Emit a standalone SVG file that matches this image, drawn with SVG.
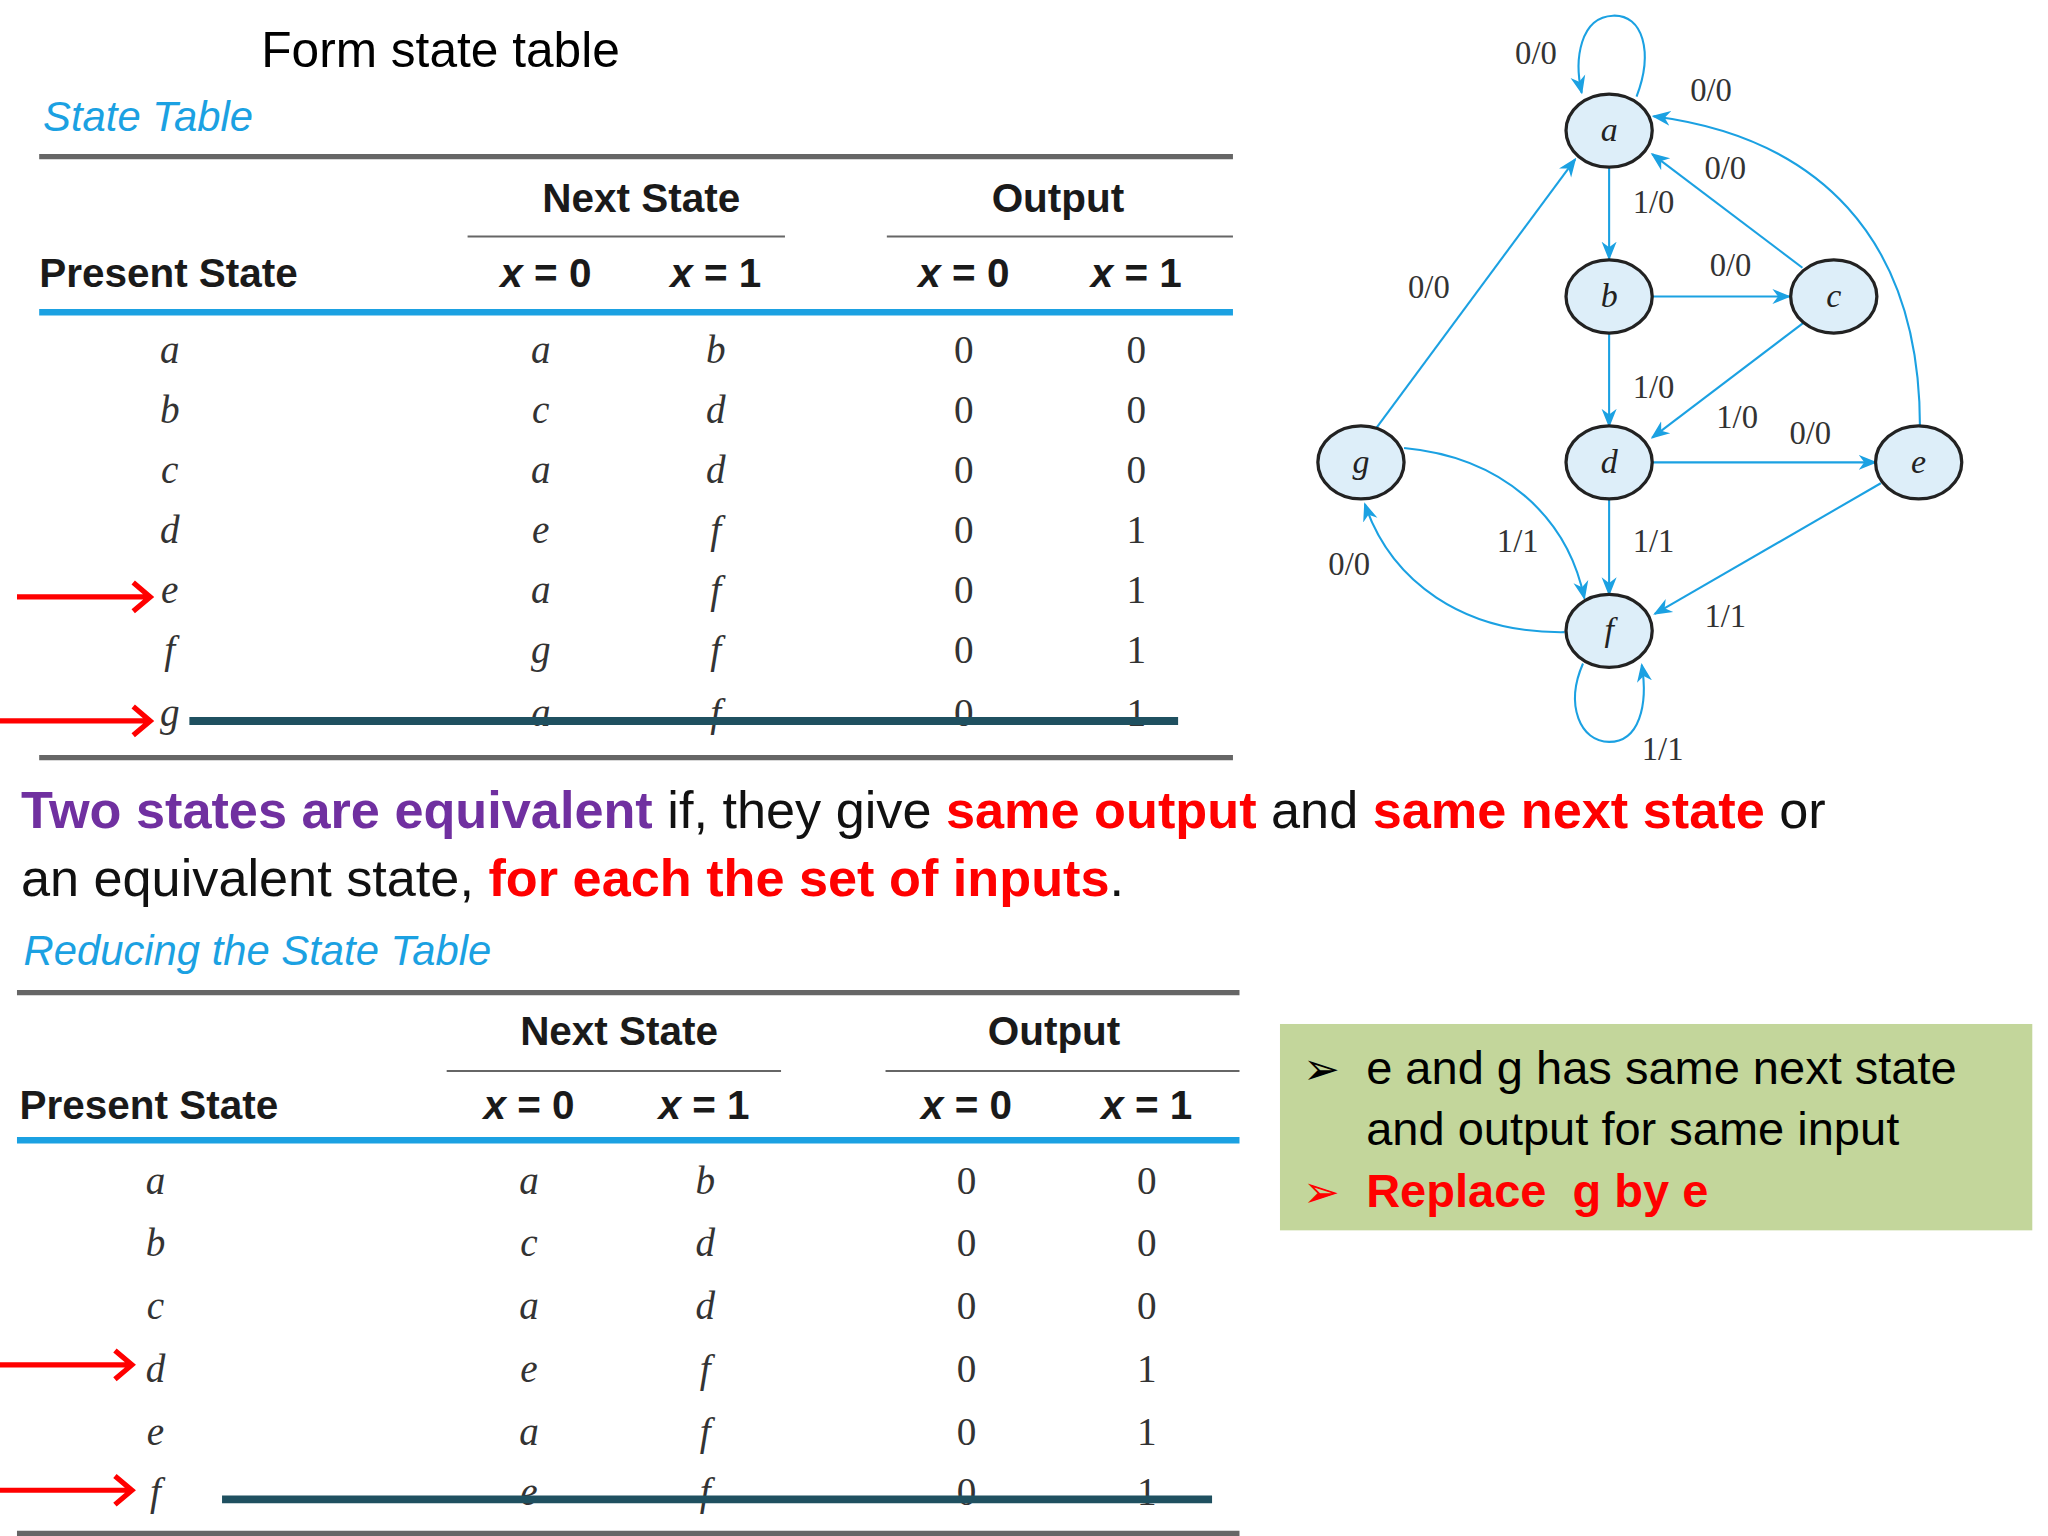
<svg xmlns="http://www.w3.org/2000/svg" width="2048" height="1536" viewBox="0 0 2048 1536">
<style>
.t{font-family:"Liberation Sans",Arial,sans-serif}
.h{font-family:"Liberation Sans",Arial,sans-serif;font-weight:bold;font-size:31px;fill:#1a1a1a}
.hc{font-family:"Liberation Sans",Arial,sans-serif;font-weight:bold;font-size:31px;fill:#1a1a1a;text-anchor:middle}
.c{font-family:"Liberation Serif","Times New Roman",serif;font-style:italic;font-size:30px;fill:#333;text-anchor:middle}
.n{font-family:"Liberation Serif","Times New Roman",serif;font-size:30px;fill:#333;text-anchor:middle}
.cap{font-family:"Liberation Sans",Arial,sans-serif;font-style:italic;font-size:32px;fill:#1ba1e2}
.gl{stroke:#666;stroke-width:4}
.tl{stroke:#666;stroke-width:1.5}
.bl{stroke:#1ba1e2;stroke-width:5}
.st{stroke:#1f5060;stroke-width:6}
.ra{stroke:#f00;stroke-width:4;fill:none}
.node ellipse{fill:#ddeef9;stroke:#222;stroke-width:2.5}
.node text{font-family:"Liberation Serif","Times New Roman",serif;font-style:italic;font-size:26px;fill:#222;text-anchor:middle}
.e{stroke:#1ba1e2;stroke-width:1.6;fill:none;marker-end:url(#ah)}
.el{font-family:"Liberation Serif","Times New Roman",serif;font-size:25px;fill:#333;text-anchor:middle}
.p{font-family:"Liberation Sans",Arial,sans-serif;font-size:40px;fill:#111}
.r{fill:#f00;font-weight:bold}
.pu{fill:#7030a0;font-weight:bold}
</style>
<defs>
<marker id="ah" viewBox="0 0 10 10" refX="9" refY="5" markerWidth="9" markerHeight="9" orient="auto"><path d="M0,1 L10,5 L0,9 L3,5 Z" fill="#1ba1e2"/></marker>
</defs>
<rect width="2048" height="1536" fill="#fff"/>
<g transform="scale(1.3061)">
<text class="t" x="200" y="51" font-size="38">Form state table</text>
<text class="cap" x="33" y="100">State Table</text>
<line class="gl" x1="30" y1="120" x2="944" y2="120"/>
<text class="hc" x="491" y="162">Next State</text>
<line class="tl" x1="358" y1="181" x2="601" y2="181"/>
<text class="hc" x="810" y="162">Output</text>
<line class="tl" x1="679" y1="181" x2="944" y2="181"/>
<text class="h" x="30" y="220">Present State</text>
<text class="hc" x="418" y="220"><tspan font-style="italic">x</tspan> = 0</text>
<text class="hc" x="548" y="220"><tspan font-style="italic">x</tspan> = 1</text>
<text class="hc" x="738" y="220"><tspan font-style="italic">x</tspan> = 0</text>
<text class="hc" x="870" y="220"><tspan font-style="italic">x</tspan> = 1</text>
<line class="bl" x1="30" y1="239" x2="944" y2="239"/>
<g>
<text class="c" x="130" y="278">a</text><text class="c" x="414" y="278">a</text><text class="c" x="548" y="278">b</text><text class="n" x="738" y="278">0</text><text class="n" x="870" y="278">0</text>
<text class="c" x="130" y="324">b</text><text class="c" x="414" y="324">c</text><text class="c" x="548" y="324">d</text><text class="n" x="738" y="324">0</text><text class="n" x="870" y="324">0</text>
<text class="c" x="130" y="370">c</text><text class="c" x="414" y="370">a</text><text class="c" x="548" y="370">d</text><text class="n" x="738" y="370">0</text><text class="n" x="870" y="370">0</text>
<text class="c" x="130" y="416">d</text><text class="c" x="414" y="416">e</text><text class="c" x="548" y="416">f</text><text class="n" x="738" y="416">0</text><text class="n" x="870" y="416">1</text>
<text class="c" x="130" y="462">e</text><text class="c" x="414" y="462">a</text><text class="c" x="548" y="462">f</text><text class="n" x="738" y="462">0</text><text class="n" x="870" y="462">1</text>
<text class="c" x="130" y="508">f</text><text class="c" x="414" y="508">g</text><text class="c" x="548" y="508">f</text><text class="n" x="738" y="508">0</text><text class="n" x="870" y="508">1</text>
<text class="c" x="130" y="556">g</text><text class="c" x="414" y="556">a</text><text class="c" x="548" y="556">f</text><text class="n" x="738" y="556">0</text><text class="n" x="870" y="556">1</text>
</g>
<line class="st" x1="145" y1="552" x2="902" y2="552"/>
<path class="ra" d="M13,457 H114 M102,446 L115,457 L102,468"/>
<path class="ra" d="M0,552 H114 M102,541 L115,552 L102,563"/>
<line class="gl" x1="30" y1="580" x2="944" y2="580"/>

<text class="p" x="16" y="634"><tspan class="pu">Two states are equivalent</tspan> if, they give <tspan class="r">same output</tspan> and <tspan class="r">same next state</tspan> or</text>
<text class="p" x="16" y="686">an equivalent state, <tspan class="r">for each the set of inputs</tspan>.</text>

<text class="cap" x="18" y="739">Reducing the State Table</text>
<line class="gl" x1="13" y1="760" x2="949" y2="760"/>
<text class="hc" x="474" y="800">Next State</text>
<line class="tl" x1="342" y1="820" x2="598" y2="820"/>
<text class="hc" x="807" y="800">Output</text>
<line class="tl" x1="678" y1="820" x2="949" y2="820"/>
<text class="h" x="15" y="857">Present State</text>
<text class="hc" x="405" y="857"><tspan font-style="italic">x</tspan> = 0</text>
<text class="hc" x="539" y="857"><tspan font-style="italic">x</tspan> = 1</text>
<text class="hc" x="740" y="857"><tspan font-style="italic">x</tspan> = 0</text>
<text class="hc" x="878" y="857"><tspan font-style="italic">x</tspan> = 1</text>
<line class="bl" x1="13" y1="873" x2="949" y2="873"/>
<g>
<text class="c" x="119" y="914">a</text><text class="c" x="405" y="914">a</text><text class="c" x="540" y="914">b</text><text class="n" x="740" y="914">0</text><text class="n" x="878" y="914">0</text>
<text class="c" x="119" y="962">b</text><text class="c" x="405" y="962">c</text><text class="c" x="540" y="962">d</text><text class="n" x="740" y="962">0</text><text class="n" x="878" y="962">0</text>
<text class="c" x="119" y="1010">c</text><text class="c" x="405" y="1010">a</text><text class="c" x="540" y="1010">d</text><text class="n" x="740" y="1010">0</text><text class="n" x="878" y="1010">0</text>
<text class="c" x="119" y="1058">d</text><text class="c" x="405" y="1058">e</text><text class="c" x="540" y="1058">f</text><text class="n" x="740" y="1058">0</text><text class="n" x="878" y="1058">1</text>
<text class="c" x="119" y="1106">e</text><text class="c" x="405" y="1106">a</text><text class="c" x="540" y="1106">f</text><text class="n" x="740" y="1106">0</text><text class="n" x="878" y="1106">1</text>
<text class="c" x="119" y="1152">f</text><text class="c" x="405" y="1152">e</text><text class="c" x="540" y="1152">f</text><text class="n" x="740" y="1152">0</text><text class="n" x="878" y="1152">1</text>
</g>
<line class="st" x1="170" y1="1148" x2="928" y2="1148"/>
<path class="ra" d="M0,1045 H100 M88,1034 L101,1045 L88,1056"/>
<path class="ra" d="M0,1141 H100 M88,1130 L101,1141 L88,1152"/>
<line class="gl" x1="13" y1="1174" x2="949" y2="1174"/>

<rect x="980" y="784" width="576" height="158" fill="#c3d69b"/>
<text class="t" x="998" y="830" font-size="34">➢</text>
<text class="t" x="1046" y="830" font-size="36">e and g has same next state</text>
<text class="t" x="1046" y="877" font-size="36">and output  for same input</text>
<text class="t" x="998" y="924" font-size="34" fill="#f00">➢</text>
<text class="t" x="1046" y="924" font-size="36" fill="#f00" font-weight="bold" xml:space="preserve">Replace  g by e</text>

<g id="connectors">
<path class="e" d="M1253,74 C1266,40 1258,11 1235,12 C1210,13 1205,45 1211,71"/>
<path class="e" d="M1232,128 V198"/>
<path class="e" d="M1265,227 H1370"/>
<path class="e" d="M1380,205 L1265,118"/>
<path class="e" d="M1232,255 V326"/>
<path class="e" d="M1381,247 L1265,335"/>
<path class="e" d="M1265,354 H1436"/>
<path class="e" d="M1470,327 C1470,180 1390,105 1266,89"/>
<path class="e" d="M1232,382 V455"/>
<path class="e" d="M1440,370 L1267,470"/>
<path class="e" d="M1052,330 L1206,122"/>
<path class="e" d="M1075,343 C1150,350 1200,395 1213,458"/>
<path class="e" d="M1198,484 C1120,485 1065,445 1045,386"/>
<path class="e" d="M1212,508 C1198,540 1210,568 1232,568 C1255,568 1262,540 1257,509"/>
<text class="el" x="1176" y="49">0/0</text>
<text class="el" x="1310" y="77">0/0</text>
<text class="el" x="1321" y="137">0/0</text>
<text class="el" x="1266" y="163">1/0</text>
<text class="el" x="1325" y="211">0/0</text>
<text class="el" x="1094" y="228">0/0</text>
<text class="el" x="1266" y="305">1/0</text>
<text class="el" x="1330" y="328">1/0</text>
<text class="el" x="1386" y="340">0/0</text>
<text class="el" x="1162" y="423">1/1</text>
<text class="el" x="1266" y="423">1/1</text>
<text class="el" x="1033" y="440">0/0</text>
<text class="el" x="1321" y="480">1/1</text>
<text class="el" x="1273" y="582">1/1</text>
</g>
<g id="a" class="node"><ellipse cx="1232" cy="100" rx="33" ry="28"/><text x="1232" y="108">a</text></g>
<g id="b" class="node"><ellipse cx="1232" cy="227" rx="33" ry="28"/><text x="1232" y="235">b</text></g>
<g id="c" class="node"><ellipse cx="1404" cy="227" rx="33" ry="28"/><text x="1404" y="235">c</text></g>
<g id="d" class="node"><ellipse cx="1232" cy="354" rx="33" ry="28"/><text x="1232" y="362">d</text></g>
<g id="e" class="node"><ellipse cx="1469" cy="354" rx="33" ry="28"/><text x="1469" y="362">e</text></g>
<g id="g" class="node"><ellipse cx="1042" cy="354" rx="33" ry="28"/><text x="1042" y="362">g</text></g>
<g id="f" class="node"><ellipse cx="1232" cy="483" rx="33" ry="28"/><text x="1232" y="491">f</text></g>
</g>
</svg>
